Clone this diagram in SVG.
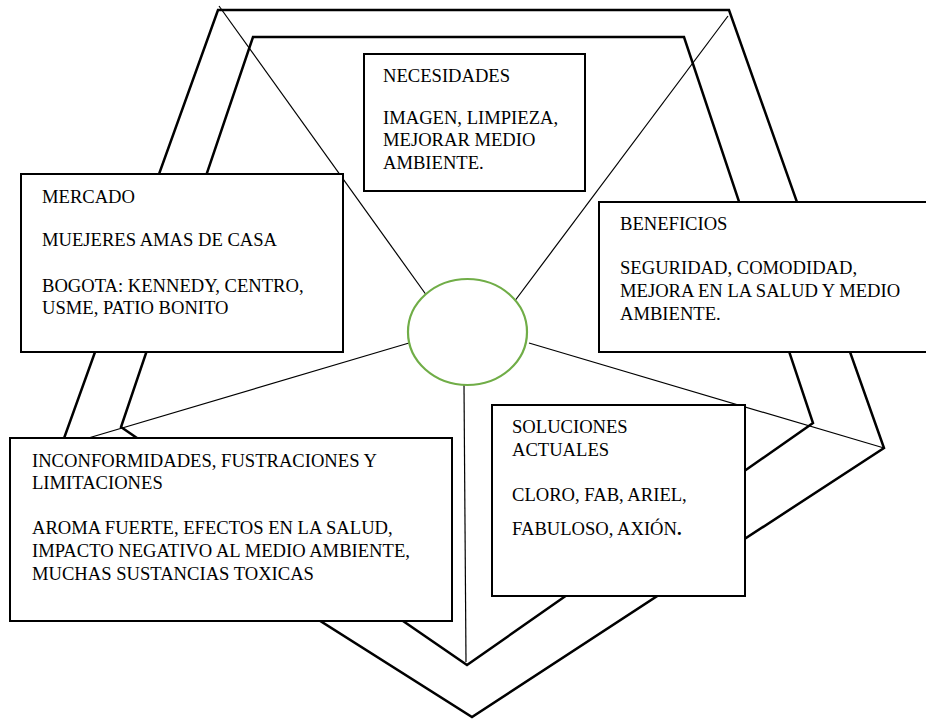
<svg xmlns="http://www.w3.org/2000/svg" width="926" height="719" viewBox="0 0 926 719">
<style>
.frame{fill:none;stroke:#000;stroke-width:2.5;stroke-linejoin:miter}
.link{fill:none;stroke:#000;stroke-width:1.2}
.box{fill:#fff;stroke:#000;stroke-width:2}
.hub{fill:#fff;stroke:#70AD47;stroke-width:2.2}
text{font-family:"Liberation Serif","Times New Roman",serif;font-size:18.6px;fill:#000}
</style>
<rect width="926" height="719" fill="#fff"/>
<g id="frames">
<polygon class="frame" points="218,10 729,10 884,448 472,717 58,455"/>
<polygon class="frame" points="253,37 684,37 813,423 467,665 121,427"/>
</g>
<g id="connectors">
<line class="link" x1="219" y1="6" x2="427" y2="296"/>
<line class="link" x1="728" y1="16" x2="514" y2="302"/>
<line class="link" x1="409" y1="343" x2="58" y2="447"/>
<line class="link" x1="529" y1="343" x2="884" y2="448"/>
<line class="link" x1="464" y1="385" x2="466" y2="662"/>
</g>
<g id="hub">
<ellipse class="hub" cx="467.5" cy="332" rx="59.5" ry="53"/>
</g>
<g id="necesidades">
<rect class="box" x="364" y="54" width="221" height="137"/>
<text x="383" y="82">NECESIDADES</text>
<text x="383" y="124">IMAGEN, LIMPIEZA,</text>
<text x="383" y="146">MEJORAR MEDIO</text>
<text x="383" y="169">AMBIENTE.</text>
</g>
<g id="mercado">
<rect class="box" x="21" y="174" width="322" height="178"/>
<text x="42" y="203">MERCADO</text>
<text x="42" y="246">MUEJERES AMAS DE CASA</text>
<text x="42" y="292">BOGOTA: KENNEDY, CENTRO,</text>
<text x="42" y="314">USME, PATIO BONITO</text>
</g>
<g id="beneficios">
<rect class="box" x="599" y="202" width="345" height="150"/>
<text x="620" y="230">BENEFICIOS</text>
<text x="620" y="274">SEGURIDAD, COMODIDAD,</text>
<text x="620" y="297">MEJORA EN LA SALUD Y MEDIO</text>
<text x="620" y="320">AMBIENTE.</text>
</g>
<g id="inconformidades">
<rect class="box" x="10" y="438" width="442" height="183"/>
<text x="32" y="467">INCONFORMIDADES, FUSTRACIONES Y</text>
<text x="32" y="489">LIMITACIONES</text>
<text x="32" y="534">AROMA FUERTE, EFECTOS EN LA SALUD,</text>
<text x="32" y="557">IMPACTO NEGATIVO AL MEDIO AMBIENTE,</text>
<text x="32" y="580">MUCHAS SUSTANCIAS TOXICAS</text>
</g>
<g id="soluciones">
<rect class="box" x="492" y="405" width="253" height="191"/>
<text x="512" y="433">SOLUCIONES</text>
<text x="512" y="456">ACTUALES</text>
<text x="512" y="501">CLORO, FAB, ARIEL,</text>
<text x="512" y="535">FABULOSO, AXIÓN<tspan font-weight="bold">.</tspan></text>
</g>
</svg>
